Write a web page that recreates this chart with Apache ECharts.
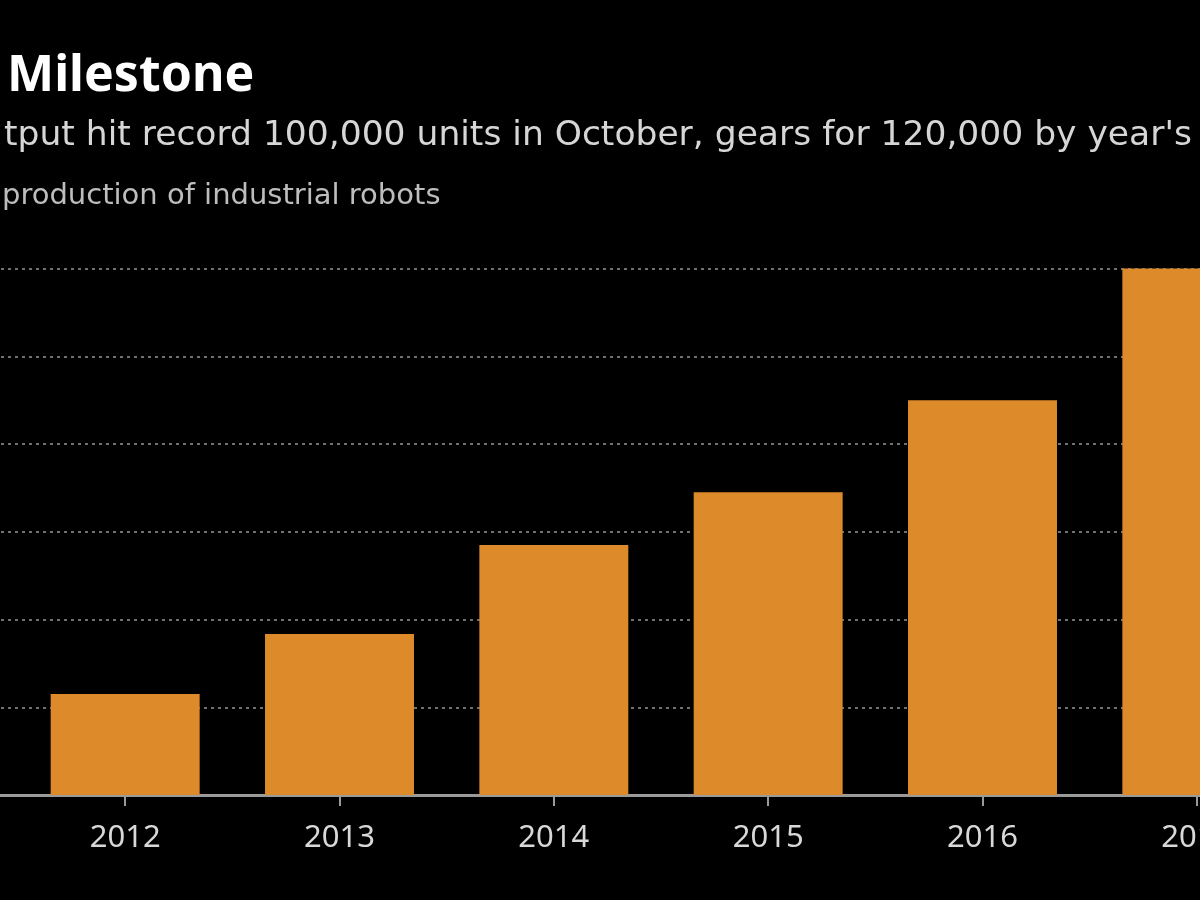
<!DOCTYPE html>
<html>
<head>
<meta charset="utf-8">
<script src="https://cdn.jsdelivr.net/npm/echarts@6/dist/echarts.min.js"></script>
<style>
html,body{margin:0;padding:0;background:#000;}
#chart{width:1200px;height:900px;}
</style>
</head>
<body>
<div id="chart"></div>
<script>
// Data
const categories = ['2012', '2013', '2014', '2015', '2016', '2017'];
const production = [23000, 36700, 57000, 69000, 90000, 120000];
const yTicks = [0, 20000, 40000, 60000, 80000, 100000, 120000];

const titleText = 'Milestone';
const subtitleText = "tput hit record 100,000 units in October, gears for 120,000 by year's";
const noteText = 'production of industrial robots';

const FONT = '"Noto Sans", "DejaVu Sans", sans-serif';
const FONT2 = '"DejaVu Sans", sans-serif';
const chart = echarts.init(document.getElementById('chart'));

const yMin = yTicks[0], yMax = yTicks[yTicks.length - 1], yInt = yTicks[1] - yTicks[0];

chart.setOption({
  backgroundColor: '#000000',
  animation: false,
  title: [
    { text: titleText, left: 2, top: 47, textStyle: { color: '#ffffff', fontSize: 50, fontWeight: 'bold', fontFamily: FONT } },
    { text: subtitleText, left: -1, top: 114, textStyle: { color: '#d6d6d6', fontSize: 34.5, fontWeight: 'normal', fontFamily: FONT2 } },
    { text: noteText, left: -3, top: 177, textStyle: { color: '#bdbdbd', fontSize: 29, fontWeight: 'normal', fontFamily: FONT2 } }
  ],
  grid: [
    { left: 18, top: 268.5, right: -104, bottom: 105, containLabel: false, outerBoundsMode: 'none' },
    { left: -20, top: 268.5, right: -20, bottom: 105, containLabel: false, outerBoundsMode: 'none' }
  ],
  xAxis: [
    {
      type: 'category', gridIndex: 0, data: categories,
      axisLine: { show: false },
      axisTick: { show: true, alignWithLabel: true, length: 11, lineStyle: { color: '#9a9a9a', width: 2 } },
      axisLabel: { color: '#d8d8d8', fontSize: 31, fontFamily: FONT, margin: 28 },
      splitLine: { show: false }
    },
    {
      type: 'value', gridIndex: 1, min: 0, max: 1,
      axisLine: { show: true, onZero: false, lineStyle: { color: '#9a9a9a', width: 3 } },
      axisTick: { show: false }, axisLabel: { show: false }, splitLine: { show: false }
    }
  ],
  yAxis: [
    {
      type: 'value', gridIndex: 0, min: yMin, max: yMax, interval: yInt,
      axisLine: { show: false }, axisTick: { show: false }, axisLabel: { show: false }, splitLine: { show: false }
    },
    {
      type: 'value', gridIndex: 1, min: yMin, max: yMax, interval: yInt,
      axisLine: { show: false }, axisTick: { show: false }, axisLabel: { show: false },
      splitLine: { show: true, lineStyle: { color: '#707070', width: 2, type: [3, 4] } }
    }
  ],
  series: [
    {
      type: 'bar', xAxisIndex: 0, yAxisIndex: 0, data: production,
      barCategoryGap: '30.5%', z: 5,
      itemStyle: { color: '#DD8A2A' }
    }
  ]
});
</script>
</body>
</html>
